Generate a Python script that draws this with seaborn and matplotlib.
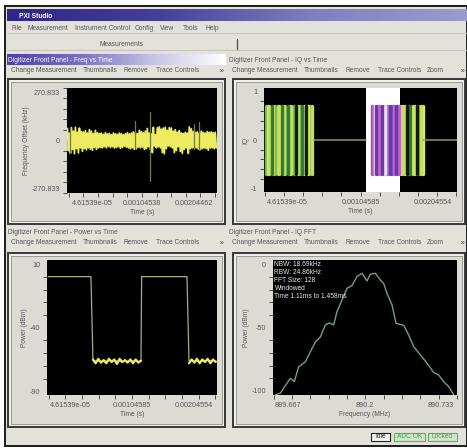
import numpy as np
import pandas as pd
import matplotlib
matplotlib.use("Agg")
import matplotlib.pyplot as plt
from matplotlib.colors import LinearSegmentedColormap
from matplotlib.patches import Rectangle
import seaborn as sns

# freq vs time, envelope of the noisy trace (kHz)
freq_hi = [62,38,66,48,68,42,64,46,44,50,38,56,48,36,52,40,36,38,32,40,34,36,30,38,34,32,38,36,30,35,40,34,
           38,44,40,36,52,46,40,48,62,38,34,68,30,66,70,58,64,68,52,66,64,48,56,42,50,38,36,42,38,70,60,46,
           42,44,38,48,42,38,46,42,44,40,42]
freq_lo = [-52,-66,-46,-68,-42,-64,-38,-56,-42,-48,-38,-44,-50,-36,-46,-38,-36,-38,-32,-38,-30,-36,-32,-38,
           -36,-32,-40,-36,-30,-34,-38,-42,-38,-46,-42,-34,-38,-34,-46,-42,-32,-46,-62,-28,-38,-32,-38,-62,
           -68,-42,-28,-32,-38,-62,-52,-32,-56,-66,-46,-38,-66,-42,-38,-38,-38,-44,-46,-42,-38,-42,-50,-38,-38,-42,-38]
spike_t = [0.00006, 0.00095, 0.00115, 0.00175, 0.00183]
spike_hi = [72, 100, 147, 85, 95]
spike_lo = [-62, -40, -208, -45, -50]

# IQ vs time bursts
iq_t1 = [-0.00020,-0.00017,-0.00015,-0.00012,-0.00010,-0.00007,-0.00004,-0.00002,0.00001,0.00004,0.00006,0.00009,
         0.00012,0.00014,0.00017,0.00020,0.00022,0.00025,0.00028,0.00030,0.00033,0.00036,0.00038,0.00041]
iq_shade1 = ['g','y','l','d','y','g','l','y','d','l','g','d','y','l','g','k','l','g','d','l','k','y','g','l']
iq_t2 = [0.00119,0.00121,0.00123,0.00125,0.00127,0.00129,0.00131,0.00133,0.00135,0.00137,0.00139,0.00141,0.00143,
         0.00145,0.00147,0.00149,0.00151,0.00153,0.00155]
iq_shade2 = ['p','m','w','v','p','m','m','v','p','w','p','m','v','p','p','m','v','p','m']
iq_t3 = [0.00158,0.00160,0.00163,0.00165,0.00168,0.00170,0.00173,0.00176,0.00178,0.00181,0.00184,0.00186]
iq_shade3 = ['y','l','l','k','g','d','y','l','k','g','l','y']
iq_amp = 0.70

# power vs time
power_t = [-0.00021,0.00043,0.00046,0.00060,0.00075,0.00090,0.00105,0.00118,0.00119,0.00187,0.00190,0.00205,0.00220,0.00231]
power_db = [0.3,0.3,-66,-66.5,-65.8,-66.6,-66,-66.5,0.3,0.3,-66,-66.5,-65.8,-66.2]
# low state noise
low1_t = [0.00046,0.00050,0.00054,0.00058,0.00062,0.00066,0.00070,0.00074,0.00078,0.00082,0.00086,0.00090,0.00094,0.00098,0.00102,0.00106,0.00110,0.00114,0.00118]
low1_db = [-65,-68,-64.5,-67.5,-65.5,-68,-64.5,-67,-65,-68.5,-64.5,-67,-65.5,-67.5,-65,-68,-65,-67.5,-66]
low2_t = [0.00190,0.00194,0.00198,0.00202,0.00206,0.00210,0.00214,0.00218,0.00222,0.00226,0.00230]
low2_db = [-68,-65,-67.5,-64.5,-68,-65,-67,-64.5,-68,-65,-67]

# IQ FFT
fft_f = [889.546,889.582,889.619,889.655,889.684,889.715,889.764,889.800,889.837,889.873,889.909,889.938,889.970,
         889.994,890.030,890.067,890.103,890.139,890.176,890.212,890.236,890.273,890.309,890.333,890.357,890.394,
         890.423,890.479,890.515,890.551,890.600,890.648,890.697,890.733,890.769,890.806,890.842]
fft_p = [-103,-101.8,-95.8,-90,-92.6,-81,-77,-69.2,-61.3,-57.4,-47.9,-46.3,-47.9,-37.4,-28.2,-18.9,-16.8,-9.7,-7.1,
         -13.2,-7.9,-7.1,-12.4,-15,-22.9,-32,-46.6,-48.2,-55.8,-65,-71.6,-78,-85.5,-87.4,-92.6,-96.6,-103]

menu_items = ['File', 'Measurement', 'Instrument Control', 'Config', 'View', 'Tools', 'Help']
toolbar_items = ['Change Measurement', 'Thumbnails', 'Remove', 'Trace Controls']
fft_notes = ['NBW: 18.69kHz', 'RBW: 24.86kHz', 'FFT Size: 128', 'Windowed', 'Time 1.11ms to 1.458ms']

W, H = 467, 448
sns.set_theme(style='ticks')
plt.rcParams['font.family'] = ['Liberation Sans', 'DejaVu Sans']
GREY = '#e3e2da'
TXT = '#55555a'
FS = 4.8

fig = plt.figure(figsize=(W / 100, H / 100), dpi=100, facecolor='white')
bg = fig.add_axes([0, 0, 1, 1], zorder=0)


def box(x0, y0, x1, y1, fc='none', ec='none', lw=0.8):
    bg.add_patch(Rectangle((x0, y0), x1 - x0, y1 - y0, facecolor=fc, edgecolor=ec, linewidth=lw))


def grad(x0, y0, x1, y1, colours):
    cm = LinearSegmentedColormap.from_list('g', colours)
    bg.imshow(np.linspace(0, 1, 200).reshape(1, -1), extent=(x0, x1, y1, y0), cmap=cm, aspect='auto', zorder=2)


def txt(x, y, s, size=FS, color=TXT, **kw):
    bg.text(x, y, s, fontsize=size, color=color, va='center', zorder=3, **kw)


box(5, 6, 467, 446, fc=GREY, ec='#1c1c1c', lw=1.4)
grad(7, 9, 467, 21, ['#2f2488', '#45409a', '#7f7fbe', '#9a9ccc'])
txt(19, 16, 'PXI Studio', color='white', weight='bold')
box(11, 11, 16, 20, fc='#dfe2ea')
for x0 in (437, 447, 456):
    box(x0, 12, x0 + 8, 20, fc='#c9c9c5', ec='#55555a', lw=0.5)
for x0, name in zip((11, 28, 75, 135, 160, 183, 206), menu_items):
    txt(x0, 28, name)
bg.plot([7, 467], [33, 33], color='#c8c8c0', lw=0.8, zorder=3)
bg.plot([7, 467], [50, 50], color='#c8c8c0', lw=0.8, zorder=3)
txt(122, 44, 'Measurements', ha='center')
bg.plot([237, 237], [39, 49], color='#55555a', lw=1, zorder=3)

grad(7, 54, 226, 65, ['#4f3fa8', '#7a70c0', '#c6c2e4', '#ffffff'])
txt(8, 60, 'Digitizer Front Panel - Freq vs Time', color='white')
txt(229, 60, 'Digitizer Front Panel - IQ vs Time')
txt(8, 232, 'Digitizer Front Panel - Power vs Time')
txt(229, 232, 'Digitizer Front Panel - IQ FFT')

for ytxt in (71, 243):
    for x0, name in zip((11, 83, 123, 156), toolbar_items):
        txt(x0, ytxt, name)
    txt(220, ytxt, '»', size=5, color='#333333')
    for x0, name in zip((232, 304, 345, 378), toolbar_items):
        txt(x0, ytxt, name)
    txt(427, ytxt, 'Zoom')
    txt(461, ytxt, '»', size=5, color='#333333')

for x0, y0, x1, y1 in ((7, 78, 226, 225), (232, 78, 466, 225), (7, 252, 226, 428), (232, 252, 466, 428)):
    box(x0, y0, x1, y1, fc='#3c3c3c')
    box(x0 + 2, y0 + 2, x1 - 2, y1 - 2, fc='#f0f0ea')
    box(x0 + 4, y0 + 4, x1 - 4, y1 - 4, fc='#dcdbd3', ec='#8e8e8a', lw=0.6)

box(371, 433, 390, 441, fc='#f4f4f0', ec='#222222', lw=0.8)
txt(380.5, 437, 'Idle', ha='center', color='#222222')
box(394, 433, 425, 441, fc='#cfe8c8', ec='#6da86d', lw=0.8)
txt(409.5, 437, 'ADC OK', ha='center', color='#4f9a58')
box(428, 433, 457, 441, fc='#cfe8c8', ec='#6da86d', lw=0.8)
txt(442.5, 437, 'Locked', ha='center', color='#4f9a58')
bg.set_xlim(0, W)
bg.set_ylim(H, 0)
bg.axis('off')


def panel(x0, y0, x1, y1, xlim, ylim, xt, xl, yt, yl, xminor, yminor, xlabel, ylabel):
    ax = fig.add_axes([x0 / W, 1 - y1 / H, (x1 - x0) / W, (y1 - y0) / H], zorder=2, facecolor='black')
    ax.set_xlim(*xlim)
    ax.set_ylim(*ylim)
    # the labels sit apart from the tick marks in the original, marks are the minor ticks
    ax.set_xticks(xt, xl)
    ax.set_yticks(yt, yl)
    ax.set_xticks(xminor, minor=True)
    ax.set_yticks(yminor, minor=True)
    ax.tick_params(which='major', colors=TXT, labelsize=5.2, length=0, pad=5)
    ax.tick_params(which='minor', color='#333333', length=3, width=0.6)
    ax.set_xlabel(xlabel, fontsize=FS, color=TXT, labelpad=1.5)
    ax.set_ylabel(ylabel, fontsize=FS, color=TXT, labelpad=1)
    sns.despine(ax=ax, left=True, bottom=True)
    return ax


def spaced(first, step, n):
    return [first + step * i for i in range(n)]


# freq vs time
ax1 = panel(67, 88, 217, 193, (2.4e-5, 0.00207), (-270.833, 270.833),
            [0.000364, 0.00104538, 0.00175], ['4.61539e-05', '0.00104538', '0.00204462'],
            [-250, 0, 250], ['-270.833', '0', '270.833'],
            spaced(4.61539e-05, 0.00019985, 11), spaced(-270.833, 54.1666, 11),
            'Time (s)', 'Frequency Offset (kHz)')
freq_vals = np.ravel(np.column_stack([freq_hi, freq_lo]))
freq_df = pd.DataFrame({'t': np.linspace(3e-5, 0.00206, len(freq_vals)), 'f': freq_vals})
sns.lineplot(data=freq_df, x='t', y='f', color='#ecec60', lw=1.3, sort=False, estimator=None, ax=ax1)
spike_df = pd.DataFrame({'t': np.repeat(spike_t, 2), 'f': np.ravel(np.column_stack([spike_hi, spike_lo])),
                         'id': np.repeat(np.arange(len(spike_t)), 2)})
sns.lineplot(data=spike_df, x='t', y='f', units='id', estimator=None, color='#77784a', lw=0.9, sort=False, ax=ax1)

# IQ vs time
ax2 = panel(264, 88, 457, 192, (-0.00022, 0.00231), (-1.08, 1.08),
            [8.5e-05, 0.00104585, 0.00200], ['4.61539e-05', '0.00104585', '0.00204554'],
            [-1, 0, 1], ['-1', '0', '1'],
            spaced(-0.000204, 0.00024995, 11), spaced(-1, 0.2, 11),
            'Time (s)', 'IQ')
ax2.axvspan(0.00112, 0.00156, color='white', lw=0, zorder=0)
shades = {'g': '#6fb84c', 'y': '#e2e85a', 'l': '#bfe060', 'd': '#2f7a3c', 'k': '#141a08',
          'p': '#7a4fc0', 'm': '#cc5fc4', 'v': '#5a3fae', 'w': '#f0dcf2'}
iq_t = iq_t1 + iq_t2 + iq_t3
iq_shade = iq_shade1 + iq_shade2 + iq_shade3
iq_df = pd.DataFrame({'t': np.repeat(iq_t, 2), 'iq': np.tile([iq_amp, -iq_amp], len(iq_t)),
                      'shade': np.repeat(iq_shade, 2), 'id': np.repeat(np.arange(len(iq_t)), 2)})
sns.lineplot(data=iq_df, x='t', y='iq', hue='shade', units='id', estimator=None, palette=shades,
             lw=2.4, sort=False, legend=False, ax=ax2)
flat_df = pd.DataFrame({'t': [0.00044, 0.00112, 0.00187, 0.00231], 'iq': [0, 0, 0, 0], 'id': [0, 0, 1, 1]})
sns.lineplot(data=flat_df, x='t', y='iq', units='id', estimator=None, color='#8f9a5a', lw=1.1, sort=False, ax=ax2)

# power vs time
ax3 = panel(47, 260, 217, 395, (-0.000229, 0.00232), (-93, 13.4),
            [0.00012, 0.00105, 0.00197], ['4.61539e-05', '0.00104585', '0.00204554'],
            [-90, -40, 10], ['-90', '-40', '10'],
            spaced(-0.000204, 0.00024995, 11), spaced(-90, 10, 11),
            'Time (s)', 'Power (dBm)')
sns.lineplot(x=power_t, y=power_db, color='#a9ab7e', lw=0.9, sort=False, estimator=None, ax=ax3)
sns.lineplot(x=low1_t, y=low1_db, color='#ecec5c', lw=1.6, sort=False, estimator=None, ax=ax3)
sns.lineplot(x=low2_t, y=low2_db, color='#ecec5c', lw=1.6, sort=False, estimator=None, ax=ax3)

# IQ FFT
ax4 = panel(273, 260, 457, 395, (889.529, 890.866), (-103.2, 3.4),
            [889.635, 890.198, 890.75], ['889.667', '890.2', '890.733'],
            [-100, -50, 0], ['-100', '-50', '0'],
            spaced(889.5337, 0.13325, 11), spaced(-100, 10, 11),
            'Frequency (MHz)', 'Power (dBm)')
sns.lineplot(x=fft_f, y=fft_p, color='#6fa27c', lw=1.0, sort=False, estimator=None, ax=ax4)
for i, note in enumerate(fft_notes):
    ax4.text(0.008, 0.965 - i * 0.0585, note, transform=ax4.transAxes, color='#e8e8e8', fontsize=FS, va='center')

fig.savefig('out.png', dpi=100, facecolor='white')
